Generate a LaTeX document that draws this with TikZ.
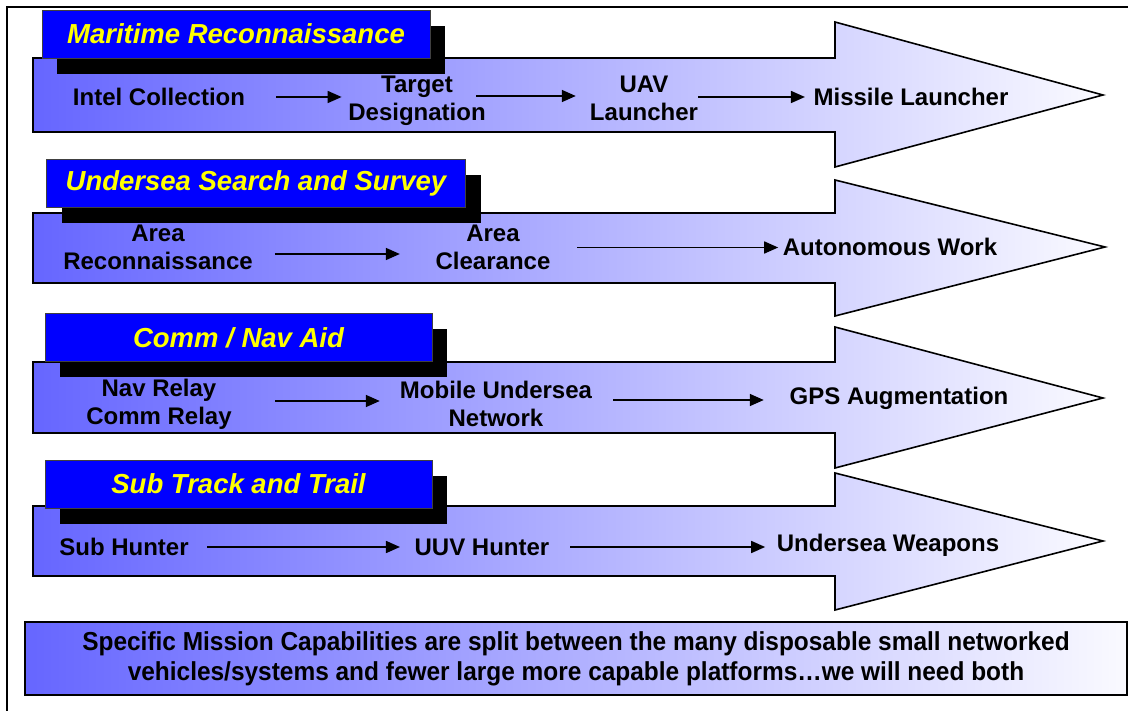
\documentclass[tikz,border=0pt]{standalone}
\usepackage{fontspec}
\setmainfont{Liberation Sans}
\newfontfamily\narrowfont[FakeStretch=0.94]{Liberation Sans}
\usetikzlibrary{arrows.meta,shadows}
\definecolor{bodyleft}{RGB}{102,102,255}
\definecolor{bodyright}{RGB}{250,250,255}
\definecolor{headblue}{RGB}{0,0,255}
\definecolor{headyellow}{RGB}{255,255,0}
\begin{document}
\begin{tikzpicture}[x=1pt,y=-1pt,
>={Triangle[length=14pt,width=12pt]},
bigarrow/.style={
% the shaded band with its head:
draw=black,
line width=1.6pt,
left color=bodyleft,
right color=bodyright
},
heading/.style={
rectangle,
draw=black!75,
line width=0.8pt,
fill=headblue,
text=headyellow,
minimum height=48pt,
inner sep=0pt,
font=\fontsize{27.5}{30}\selectfont\bfseries\itshape,
general shadow={fill=black,shadow xshift=15pt,shadow yshift=-16pt}
},
stage/.style={
align=center,
inner sep=0pt,
font=\fontsize{24}{28}\selectfont\bfseries
},
link/.style={->,line width=1.6pt}
]
\useasboundingbox (0,0) rectangle (1128,711);
\draw[line width=2pt] (7,7) rectangle (1140,722);

% First band:
\draw[bigarrow] (33,58) -- (835,58) -- (835,22) -- (1103,95) -- (835,167) -- (835,132) -- (33,132) -- cycle;
\node (maritime) [heading,minimum width=388pt] at (236,34) {Maritime Reconnaissance};
\node (intel) [stage] at (159,97) {Intel Collection};
\node (target) [stage] at (417,101) {Target\\Designation};
\node (uav) [stage] at (644,98) {UAV\\Launcher};
\node (missile) [stage] at (911,97) {Missile Launcher};
\draw[link,shorten <=31pt,shorten >=6.5pt] (intel.east) -- (intel.east -| target.west);
\draw[link,shorten <=-9.5pt,shorten >=14pt] ([yshift=5pt]target.east) -- ([yshift=5pt]target.east -| uav.west);
\draw[link,shorten >=8.5pt] ([yshift=1pt]uav.east) -- ([yshift=1pt]uav.east -| missile.west);

% Second band:
\draw[bigarrow] (33,213) -- (835,213) -- (835,180) -- (1105,247) -- (835,316) -- (835,283) -- (33,283) -- cycle;
\node (survey) [heading,minimum width=419pt] at (256,183) {Undersea Search and Survey};
\node (recon) [stage] at (158,247.5) {Area\\Reconnaissance};
\node (clear) [stage] at (493,247.5) {Area\\Clearance};
\node (autowork) [stage] at (890,247) {Autonomous Work};
\draw[link,shorten <=22pt,shorten >=35.6pt] ([yshift=-6.5pt]recon.east) -- ([yshift=-6.5pt]recon.east -| clear.west);
\draw[link,shorten <=26.6pt,shorten >=4.5pt] (clear.east) -- (clear.east -| autowork.west);

% Third band:
\draw[bigarrow] (33,362) -- (835,362) -- (835,327) -- (1103,398) -- (835,468) -- (835,433) -- (33,433) -- cycle;
\node (commnav) [heading,minimum width=387pt] at (238.5,337.5) {Comm / Nav Aid};
\node (relay) [stage] at (159,404) {Nav Relay\\Comm Relay};
\node (mobile) [stage] at (496,404) {Mobile Undersea\\Network};
\node (gps) [stage] at (899,398) {GPS Augmentation};
\draw[link,shorten <=43.3pt,shorten >=20pt] ([yshift=3pt]relay.east) -- ([yshift=3pt]relay.east -| mobile.west);
\draw[link,shorten <=21pt,shorten >=25.7pt] ([yshift=4pt]mobile.east) -- ([yshift=4pt]mobile.east -| gps.west);

% Fourth band:
\draw[bigarrow] (33,506) -- (835,506) -- (835,473) -- (1103,541) -- (835,610) -- (835,576) -- (33,576) -- cycle;
\node (trail) [heading,minimum width=387pt] at (238.5,484) {Sub Track and Trail};
\node (hunter) [stage] at (124,547) {Sub Hunter};
\node (uuv) [stage] at (482,547) {UUV Hunter};
\node (weapons) [stage] at (888,545) {Undersea Weapons};
\draw[link,shorten <=18.3pt,shorten >=14.5pt] (hunter.east) -- (hunter.east -| uuv.west);
\draw[link,shorten <=20.5pt,shorten >=11.5pt] (uuv.east) -- (uuv.east -| weapons.west);

% Summary:
\node (summary) [draw=black,line width=1.6pt,left color=bodyleft,right color=bodyright,
  minimum width=1102pt,minimum height=73pt,align=center,
  font=\narrowfont\fontsize{26}{30}\selectfont\bfseries] at (576,658.5)
  {Specific Mission Capabilities are split between the many disposable small networked\\
   vehicles/systems and fewer large more capable platforms\ldots we will need both};
\end{tikzpicture}
\end{document}
